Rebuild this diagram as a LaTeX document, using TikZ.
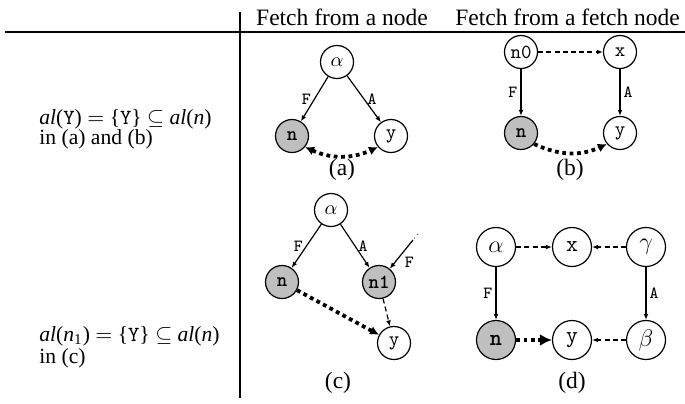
\documentclass[tikz,border=0pt]{standalone}
\usepackage{fontspec}
\setmainfont{Liberation Serif}
\usetikzlibrary{arrows.meta}
\begin{document}
\begin{tikzpicture}[x=0.5pt,y=-0.5pt,
  txt/.style={font=\fontsize{11.75}{13}\selectfont, inner sep=0pt},
  ltxt/.style={font=\fontsize{10.8}{12}\selectfont, inner sep=0pt},
  vx/.style={circle, draw, line width=0.6pt, minimum size=16.5pt, inner sep=0pt, font=\fontsize{10}{11}\ttfamily},
  vxg/.style={vx, fill=black!25, font=\fontsize{10}{11}\ttfamily\bfseries},
  vxd/.style={vx, minimum size=19.5pt, font=\fontsize{11.5}{13}\ttfamily},
  vxdg/.style={vxd, fill=black!25, font=\fontsize{11.5}{13}\ttfamily\bfseries},
  ed/.style={-{Latex[length=3pt,width=2.4pt]}, line width=0.6pt},
  dsh/.style={ed, dash pattern=on 2.5pt off 1.6pt},
  fetch/.style={-{Latex[length=4.5pt,width=4.5pt]}, line width=1.9pt, dash pattern=on 1.9pt off 1.8pt},
  lbl/.style={font=\fontsize{8.5}{9}\ttfamily, inner sep=1.5pt},
  sublbl/.style={font=\fontsize{11.75}{13}\selectfont, inner sep=0pt}
]
\useasboundingbox (0,0) rectangle (685,403);
% table rules
\draw[line width=0.9pt] (5,32) -- (685,32);
\draw[line width=0.9pt] (240,12) -- (240,398);
% headers
\node[txt, anchor=base] (h1) at (342,25) {Fetch from a node};
\node[txt, anchor=base west] (h2) at (455,25) {Fetch from a fetch node};
% left texts
\node[ltxt, anchor=base west] (l1) at (39,124) {\textit{al}(\texttt{Y}) $=$ \{\texttt{Y}\} $\subseteq$ \textit{al}(\textit{n})};
\node[ltxt, anchor=base west] (l2) at (39,144) {in (a) and (b)};
\node[ltxt, anchor=base west] (l3) at (39,341) {\textit{al}(\textit{n}\textsubscript{1}) $=$ \{\texttt{Y}\} $\subseteq$ \textit{al}(\textit{n})};
\node[ltxt, anchor=base west] (l4) at (39,363) {in (c)};
% (a)
\node[vx] (a1) at (337,62) {$\alpha$};
\node[vxg] (a2) at (292,136) {n};
\node[vx] (a3) at (391,136) {y};
\draw[ed] (a1) -- node[lbl, left] {F} (a2);
\draw[ed] (a1) -- node[lbl, right] {A} (a3);
\draw[fetch, {Latex[length=4.5pt,width=4.5pt]}-{Latex[length=4.5pt,width=4.5pt]}] (a2.-40) to[bend right=25] (a3.-140);
\node[sublbl] (ca) at (342,170) {(a)};
% (b)
\node[vx] (b1) at (521,52) {n0};
\node[vx] (b2) at (620,52) {x};
\node[vxg] (b3) at (521,133) {n};
\node[vx] (b4) at (620,133) {y};
\draw[dsh] (b1) -- (b2);
\draw[ed] (b1) -- node[lbl, left] {F} (b3);
\draw[ed] (b2) -- node[lbl, right] {A} (b4);
\draw[fetch] (b3.-40) to[bend right=25] (b4.-140);
\node[sublbl] (cb) at (570,170) {(b)};
% (c)
\node[vx] (c1) at (331,210) {$\alpha$};
\node[vxg] (c2) at (282,282) {n};
\node[vxg] (c3) at (379,282) {n1};
\node[vx] (c4) at (394,343) {y};
\coordinate (ct) at (418,234);
\coordinate (ce) at (413,240);
\draw[ed] (c1) -- node[lbl, left] {F} (c2);
\draw[ed] (c1) -- node[lbl, right] {A} (c3);
\draw[line width=0.4pt, dotted] (ct) -- (ce);
\draw[ed] (ce) -- node[lbl, right, pos=0.5, yshift=-4pt] {F} (c3);
\draw[fetch] (c2) -- (c4);
\draw[dsh] (c3) -- (c4);
\node[sublbl] (cc) at (338,383) {(c)};
% (d)
\node[vxd] (d1) at (496,247) {$\alpha$};
\node[vxd] (d2) at (572,247) {x};
\node[vxd] (d3) at (646,247) {$\gamma$};
\node[vxdg] (d4) at (496,340) {n};
\node[vxd] (d5) at (572,340) {y};
\node[vxd] (d6) at (646,340) {$\beta$};
\draw[dsh] (d1) -- (d2);
\draw[dsh] (d3) -- (d2);
\draw[ed] (d1) -- node[lbl, left] {F} (d4);
\draw[ed] (d3) -- node[lbl, right] {A} (d6);
\draw[dsh] (d6) -- (d5);
\draw[fetch, -{Latex[length=6pt,width=6pt]}, line width=2.2pt] (d4) -- (d5);
\node[sublbl] (cd) at (572,383) {(d)};
\end{tikzpicture}
\end{document}
